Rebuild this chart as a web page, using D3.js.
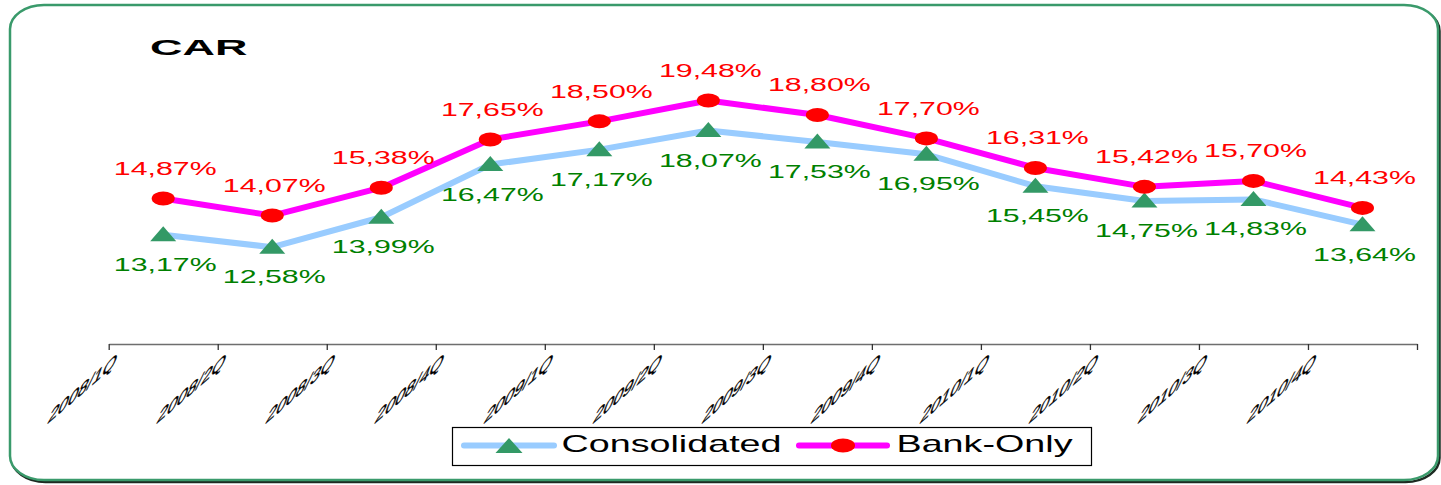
<!DOCTYPE html>
<html>
<head>
<meta charset="utf-8">
<script src="https://cdn.jsdelivr.net/npm/d3@7/dist/d3.min.js"></script>
<style>
  html, body { margin: 0; padding: 0; background: #fff; overflow: hidden; }
  svg text { font-family: "Liberation Sans", Arial, sans-serif; }
</style>
</head>
<body>
<svg id="chart" width="1441" height="485"></svg>
<script>
// Capital adequacy ratio by quarter (%)
const quarters = ["2008/1Q", "2008/2Q", "2008/3Q", "2008/4Q",
                  "2009/1Q", "2009/2Q", "2009/3Q", "2009/4Q",
                  "2010/1Q", "2010/2Q", "2010/3Q", "2010/4Q"];
const consolidated = [13.17, 12.58, 13.99, 16.47, 17.17, 18.07, 17.53, 16.95, 15.45, 14.75, 14.83, 13.64];
const bankOnly     = [14.87, 14.07, 15.38, 17.65, 18.50, 19.48, 18.80, 17.70, 16.31, 15.42, 15.70, 14.43];
const seriesNames  = ["Consolidated", "Bank-Only"];
const titleText = "CAR";

const W = 1441, H = 485;
const SX = 1.64;               // wide glyph stretch used throughout
const fmt = v => v.toFixed(2).replace(".", ",") + "%";

const svg = d3.select("#chart");

// Frame: rounded border with a dark drop edge
svg.append("rect")
  .attr("x", 11.5).attr("y", 7).attr("width", 1428).attr("height", 475)
  .attr("rx", 34).attr("ry", 24)
  .attr("fill", "none").attr("stroke", "#1d2b22").attr("stroke-width", 2.5);
svg.append("rect")
  .attr("x", 10).attr("y", 5).attr("width", 1428).attr("height", 475)
  .attr("rx", 34).attr("ry", 24)
  .attr("fill", "#fff").attr("stroke", "#3a9a6b").attr("stroke-width", 2.5);

// Title
svg.append("g").attr("transform", "translate(150,55)")
  .append("text")
  .attr("transform", "scale(2.0,1)")
  .attr("font-size", 22.5).attr("font-weight", "bold").attr("fill", "#000")
  .text(titleText);

// Scales
const xEdge = d3.scaleLinear().domain([0, quarters.length]).range([108.7, 1417]);
const xc = i => xEdge(i + 0.5);
const y = d3.scaleLinear().domain([8, 22]).range([344.6, 344.6 - 14 * 21.26]);

// Category axis: ticks on the band edges, labels at the left edge of each band
const axis = d3.axisBottom(xEdge)
  .tickValues(d3.range(quarters.length + 1))
  .tickSize(6)
  .tickSizeOuter(0)
  .tickFormat(i => i < quarters.length ? quarters[i] : "");
const gAxis = svg.append("g").attr("transform", "translate(0,344)").call(axis);
gAxis.select(".domain").attr("stroke", "#6e6e6e").attr("stroke-width", 1.6);
gAxis.selectAll(".tick line").attr("stroke", "#333").attr("stroke-width", 1.3);
gAxis.selectAll(".tick text")
  .attr("x", null).attr("y", null).attr("dy", null)
  .attr("text-anchor", "end")
  .attr("font-size", 21)
  .attr("fill", "#000")
  .attr("stroke", "#000")
  .attr("stroke-width", 0.45)
  .attr("font-family", "\"Liberation Sans\", Arial, sans-serif")
  .attr("transform", "matrix(0.84,-0.73,-0.36,1.0,5,22)");

// Lines
const line = d3.line().x((d, i) => xc(i)).y(d => y(d));
svg.append("path").datum(consolidated).attr("d", line)
  .attr("fill", "none").attr("stroke", "#99ccff").attr("stroke-width", 6)
  .attr("stroke-linejoin", "round");
svg.append("path").datum(bankOnly).attr("d", line)
  .attr("fill", "none").attr("stroke", "#ff00ff").attr("stroke-width", 6)
  .attr("stroke-linejoin", "round");

// Markers
const tri = "M0,-10L13,5L-13,5Z";
svg.append("g").selectAll("path").data(consolidated).join("path")
  .attr("d", tri)
  .attr("transform", (d, i) => `translate(${xc(i)},${y(d) + 1.5})`)
  .attr("fill", "#339966");
svg.append("g").selectAll("ellipse").data(bankOnly).join("ellipse")
  .attr("cx", (d, i) => xc(i)).attr("cy", d => y(d))
  .attr("rx", 11.5).attr("ry", 7)
  .attr("fill", "#ff0000");

// Value labels
function labels(data, color, dy) {
  svg.append("g").selectAll("g").data(data).join("g")
    .attr("transform", (d, i) => `translate(${xc(i) + 2},${y(d) + dy})`)
    .append("text")
    .attr("transform", `scale(${SX},1)`)
    .attr("text-anchor", "middle")
    .attr("font-size", 18.5)
    .attr("fill", color)
    .text(d => fmt(d));
}
labels(bankOnly, "#ff0000", -23.5);
labels(consolidated, "#008000", 36);

// Legend
const lg = svg.append("g");
lg.append("rect").attr("x", 452.5).attr("y", 427.5).attr("width", 639).attr("height", 38)
  .attr("fill", "#fff").attr("stroke", "#000").attr("stroke-width", 1.2);
lg.append("line").attr("x1", 464).attr("x2", 554).attr("y1", 445.5).attr("y2", 445.5)
  .attr("stroke", "#99ccff").attr("stroke-width", 6).attr("stroke-linecap", "round");
lg.append("path").attr("d", "M0,-8L13.5,7L-13.5,7Z").attr("transform", "translate(509,446)")
  .attr("fill", "#339966");
lg.append("line").attr("x1", 799).attr("x2", 887).attr("y1", 445.5).attr("y2", 445.5)
  .attr("stroke", "#ff00ff").attr("stroke-width", 6).attr("stroke-linecap", "round");
lg.append("ellipse").attr("cx", 843).attr("cy", 445.5).attr("rx", 12).attr("ry", 7)
  .attr("fill", "#ff0000");
[[561.5, seriesNames[0]], [896.5, seriesNames[1]]].forEach(([x, t]) => {
  lg.append("g").attr("transform", `translate(${x},452)`)
    .append("text").attr("transform", `scale(${SX},1)`)
    .attr("font-size", 23).attr("fill", "#000").text(t);
});
</script>
</body>
</html>
